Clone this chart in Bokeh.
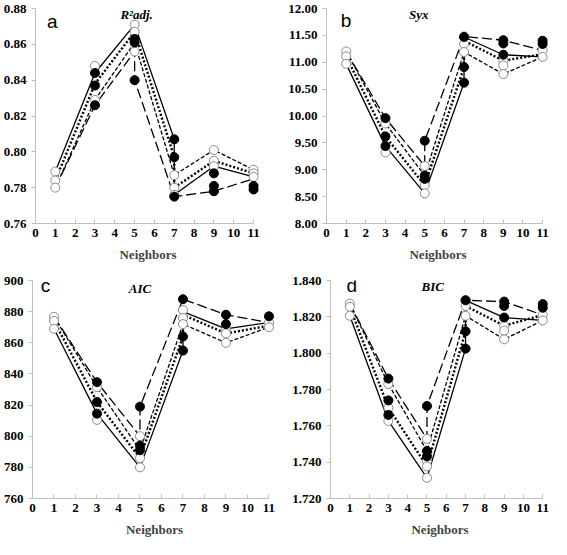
from bokeh.plotting import figure
from bokeh.layouts import column, row
from bokeh.models import Range1d, FixedTicker, NumeralTickFormatter, Label
from bokeh.embed import file_html
from bokeh.resources import INLINE

# ---------------- data ----------------
x_ticks = [0, 1, 2, 3, 4, 5, 6, 7, 8, 9, 10, 11]

# Panel a : R2adj.
a_yticks = [0.76, 0.78, 0.80, 0.82, 0.84, 0.86, 0.88]
a_solid_x = [1, 3, 5, 7, 7, 9, 11]
a_solid_y = [0.789, 0.844, 0.871, 0.807, 0.776, 0.792, 0.786]
a_dot_x = [1, 3, 5, 7, 7, 9, 11]
a_dot_y = [0.784, 0.838, 0.867, 0.797, 0.780, 0.795, 0.788]
a_sdash_x = [1, 3, 5, 7, 9, 11]
a_sdash_y = [0.780, 0.829, 0.861, 0.787, 0.801, 0.790]
a_ldash_x = [1, 3, 5, 5, 7, 9, 11]
a_ldash_y = [0.780, 0.826, 0.856, 0.840, 0.775, 0.778, 0.785]
a_open_x = [1, 1, 1, 3, 3, 5, 5, 5, 7, 7, 7, 9, 9, 9, 11, 11, 11]
a_open_y = [0.789, 0.784, 0.780, 0.848, 0.829, 0.871, 0.867, 0.856, 0.787, 0.780, 0.776,
            0.801, 0.795, 0.792, 0.790, 0.788, 0.786]
a_fill_x = [3, 3, 3, 5, 5, 5, 7, 7, 7, 9, 9, 9, 11, 11]
a_fill_y = [0.844, 0.837, 0.826, 0.863, 0.861, 0.840, 0.807, 0.797, 0.775,
            0.788, 0.781, 0.778, 0.781, 0.779]

# Panel b : Syx
b_yticks = [8.0, 8.5, 9.0, 9.5, 10.0, 10.5, 11.0, 11.5, 12.0]
b_solid_x = [1, 3, 5, 7, 7, 9, 11]
b_solid_y = [10.97, 9.44, 8.56, 10.62, 11.47, 11.14, 11.10]
b_dot_x = [1, 3, 5, 7, 7, 9, 11]
b_dot_y = [11.11, 9.62, 8.71, 10.91, 11.40, 11.03, 11.15]
b_sdash_x = [1, 3, 5, 7, 9, 11]
b_sdash_y = [11.20, 9.86, 8.89, 11.19, 10.78, 11.10]
b_ldash_x = [1, 3, 5, 5, 7, 9, 11]
b_ldash_y = [11.20, 9.96, 9.07, 9.54, 11.48, 11.41, 11.22]
b_open_x = [1, 1, 1, 3, 3, 5, 5, 5, 7, 7, 7, 9, 9, 9, 11, 11]
b_open_y = [11.20, 11.11, 10.97, 9.86, 9.32, 9.07, 8.71, 8.56, 11.48, 11.34, 11.19,
            11.03, 10.94, 10.78, 11.22, 11.10]
b_fill_x = [3, 3, 3, 5, 5, 5, 7, 7, 7, 9, 9, 9, 11, 11]
b_fill_y = [9.96, 9.62, 9.44, 9.54, 8.89, 8.83, 11.47, 10.91, 10.62,
            11.41, 11.35, 11.14, 11.40, 11.34]

# Panel c : AIC
c_yticks = [760, 780, 800, 820, 840, 860, 880, 900]
c_solid_x = [1, 3, 5, 7, 7, 9, 11]
c_solid_y = [869, 814.5, 780, 855, 880, 869, 873]
c_dot_x = [1, 3, 5, 7, 7, 9, 11]
c_dot_y = [874, 822, 786, 864, 878, 866, 871]
c_sdash_x = [1, 3, 5, 7, 9, 11]
c_sdash_y = [876.7, 831.5, 791, 872, 860, 870]
c_ldash_x = [1, 3, 5, 5, 7, 9, 11]
c_ldash_y = [876.7, 834.7, 800, 819, 888, 878, 873]
c_open_x = [1, 1, 1, 3, 3, 5, 5, 5, 7, 7, 7, 9, 9, 9, 11, 11]
c_open_y = [876.7, 874, 869, 831.5, 810.5, 800, 786, 780, 881, 876, 872,
            868, 866, 860, 873, 870]
c_fill_x = [3, 3, 3, 5, 5, 5, 7, 7, 7, 9, 9, 11]
c_fill_y = [834.7, 822, 814.5, 819, 794, 791, 888, 864, 855, 878, 872, 877]

# Panel d : BIC
d_yticks = [1.72, 1.74, 1.76, 1.78, 1.80, 1.82, 1.84]
d_solid_x = [1, 3, 5, 7, 7, 9, 11]
d_solid_y = [1.8206, 1.7627, 1.7314, 1.8025, 1.8291, 1.8196, 1.8180]
d_dot_x = [1, 3, 5, 7, 7, 9, 11]
d_dot_y = [1.8255, 1.7700, 1.7377, 1.8120, 1.8260, 1.8151, 1.8210]
d_sdash_x = [1, 3, 5, 7, 9, 11]
d_sdash_y = [1.8273, 1.7830, 1.7462, 1.8206, 1.8076, 1.8180]
d_ldash_x = [1, 3, 5, 5, 7, 9, 11]
d_ldash_y = [1.8273, 1.7860, 1.7528, 1.7709, 1.8291, 1.8284, 1.8210]
d_open_x = [1, 1, 1, 3, 3, 3, 5, 5, 5, 5, 7, 7, 7, 9, 9, 9, 11, 11]
d_open_y = [1.8273, 1.8255, 1.8206, 1.7830, 1.7700, 1.7627, 1.7528, 1.7405, 1.7377, 1.7314,
            1.8291, 1.8260, 1.8206, 1.8151, 1.8124, 1.8076, 1.8210, 1.8180]
d_fill_x = [3, 3, 3, 5, 5, 5, 7, 7, 7, 9, 9, 9, 11, 11]
d_fill_y = [1.7860, 1.7740, 1.7660, 1.7709, 1.7462, 1.7432, 1.8291, 1.8120, 1.8025,
            1.8284, 1.8260, 1.8196, 1.8270, 1.8250]

SERIF = "'Liberation Serif', serif"
SANS = "'Liberation Sans', sans-serif"
AXIS_GRAY = "#bfbfbf"


def make_panel(w, h, bl, br, bt, bb, yticks, fmt, lines, open_xy, fill_xy,
               letter, letter_xy, title, title_xy):
    p = figure(width=w, height=h, output_backend="svg", toolbar_location=None,
               x_range=Range1d(0, 11.35), y_range=Range1d(yticks[0], yticks[-1]),
               min_border_left=bl, min_border_right=br, min_border_top=bt,
               min_border_bottom=bb)
    p.outline_line_color = None
    p.xgrid.visible = False
    p.ygrid.visible = False
    p.background_fill_color = "white"
    p.border_fill_color = "white"

    p.xaxis.ticker = FixedTicker(ticks=x_ticks)
    p.xaxis.bounds = (0, 11)
    p.yaxis.ticker = FixedTicker(ticks=yticks)
    p.yaxis.formatter = NumeralTickFormatter(format=fmt)
    for ax in (p.xaxis, p.yaxis):
        ax.axis_line_color = AXIS_GRAY
        ax.major_tick_line_color = AXIS_GRAY
        ax.minor_tick_line_color = None
        ax.major_label_text_font = SERIF
        ax.major_label_text_font_style = "bold"
        ax.major_label_text_font_size = "13px"
        ax.major_label_text_color = "black"
    p.xaxis.major_tick_in = 4
    p.xaxis.major_tick_out = 0
    p.xaxis.major_label_standoff = 5
    p.yaxis.major_tick_in = 0
    p.yaxis.major_tick_out = 4
    p.yaxis.major_label_standoff = 5
    p.xaxis.axis_label = "Neighbors"
    p.xaxis.axis_label_text_font = SERIF
    p.xaxis.axis_label_text_font_style = "bold"
    p.xaxis.axis_label_text_font_size = "13px"
    p.xaxis.axis_label_standoff = 7

    styles = [dict(line_width=1.3),
              dict(line_width=2.4, line_dash="2 2"),
              dict(line_width=1.3, line_dash="4 2"),
              dict(line_width=1.3, line_dash="10 4")]
    for (lx, ly), st in zip(lines, styles):
        p.line(lx, ly, line_color="black", **st)

    p.scatter(open_xy[0], open_xy[1], marker="circle", size=9, fill_color="white",
              line_color="#8a8a8a", line_width=1)
    p.scatter(fill_xy[0], fill_xy[1], marker="circle", size=9, fill_color="black",
              line_color="black", line_width=1)

    p.add_layout(Label(x=letter_xy[0], y=letter_xy[1], text=letter, text_font=SANS,
                       text_font_size="19px", text_align="center",
                       text_baseline="middle", text_color="black"))
    p.add_layout(Label(x=title_xy[0], y=title_xy[1], text=title, text_font=SERIF,
                       text_font_style="bold italic", text_font_size="13px",
                       text_align="center", text_baseline="middle", text_color="black"))
    return p


pa = make_panel(276, 268, 28, 16, 8, 45, a_yticks, "0.00",
                [(a_solid_x, a_solid_y), (a_dot_x, a_dot_y), (a_sdash_x, a_sdash_y),
                 (a_ldash_x, a_ldash_y)],
                (a_open_x, a_open_y), (a_fill_x, a_fill_y),
                "a", (0.85, 0.873), "R²adj.", (5.1, 0.8765))
pb = make_panel(275, 268, 50, 2, 8, 45, b_yticks, "0.00",
                [(b_solid_x, b_solid_y), (b_dot_x, b_dot_y), (b_sdash_x, b_sdash_y),
                 (b_ldash_x, b_ldash_y)],
                (b_open_x, b_open_y), (b_fill_x, b_fill_y),
                "b", (1.0, 11.78), "Syx", (4.7, 11.88))
pc = make_panel(276, 271, 32, 0, 12, 41, c_yticks, "0",
                [(c_solid_x, c_solid_y), (c_dot_x, c_dot_y), (c_sdash_x, c_sdash_y),
                 (c_ldash_x, c_ldash_y)],
                (c_open_x, c_open_y), (c_fill_x, c_fill_y),
                "c", (0.6, 897), "AIC", (5.0, 895))
pd_ = make_panel(275, 271, 54, 2, 12, 41, d_yticks, "0.000",
                 [(d_solid_x, d_solid_y), (d_dot_x, d_dot_y), (d_sdash_x, d_sdash_y),
                  (d_ldash_x, d_ldash_y)],
                 (d_open_x, d_open_y), (d_fill_x, d_fill_y),
                 "d", (1.1, 1.8375), "BIC", (5.3, 1.8365))

layout = column(row(pa, pb), row(pc, pd_))

with open("out.html", "w") as f:
    f.write(file_html(layout, INLINE))
